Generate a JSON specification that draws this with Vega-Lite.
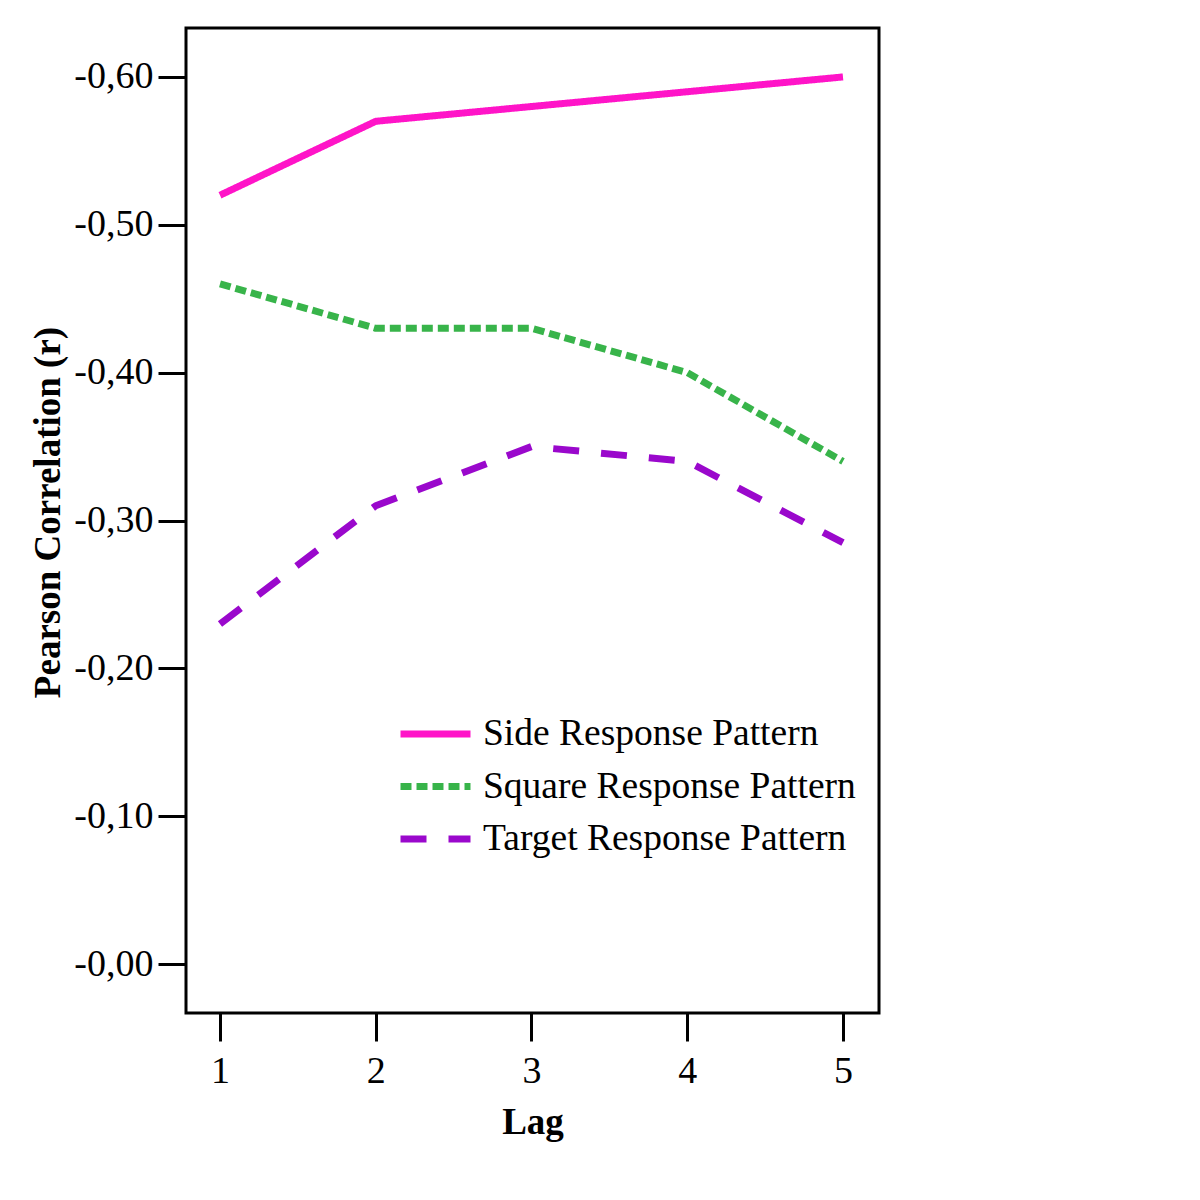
{
  "$schema": "https://vega.github.io/schema/vega-lite/v6.json",
  "autosize": {"type": "none"},
  "width": 693,
  "height": 985,
  "padding": {"left": 186, "top": 28, "right": 321, "bottom": 187},
  "background": "white",
  "data": {
    "values": [
      {"Lag": 1, "r": -0.52, "Pattern": "Side Response Pattern"},
      {"Lag": 2, "r": -0.57, "Pattern": "Side Response Pattern"},
      {"Lag": 3, "r": -0.58, "Pattern": "Side Response Pattern"},
      {"Lag": 4, "r": -0.59, "Pattern": "Side Response Pattern"},
      {"Lag": 5, "r": -0.60, "Pattern": "Side Response Pattern"},
      {"Lag": 1, "r": -0.46, "Pattern": "Square Response Pattern"},
      {"Lag": 2, "r": -0.43, "Pattern": "Square Response Pattern"},
      {"Lag": 3, "r": -0.43, "Pattern": "Square Response Pattern"},
      {"Lag": 4, "r": -0.40, "Pattern": "Square Response Pattern"},
      {"Lag": 5, "r": -0.34, "Pattern": "Square Response Pattern"},
      {"Lag": 1, "r": -0.23, "Pattern": "Target Response Pattern"},
      {"Lag": 2, "r": -0.31, "Pattern": "Target Response Pattern"},
      {"Lag": 3, "r": -0.35, "Pattern": "Target Response Pattern"},
      {"Lag": 4, "r": -0.34, "Pattern": "Target Response Pattern"},
      {"Lag": 5, "r": -0.285, "Pattern": "Target Response Pattern"}
    ]
  },
  "mark": {"type": "line", "strokeWidth": 7, "strokeCap": "butt", "strokeJoin": "round"},
  "encoding": {
    "x": {
      "field": "Lag", "type": "quantitative",
      "scale": {"domain": [0.7817, 5.2312], "nice": false, "zero": false},
      "axis": {"values": [1, 2, 3, 4, 5], "format": "d", "title": "Lag",
        "labelPadding": 11, "titleX": 346.5, "titleY": 120, "titleBaseline": "alphabetic", "titleAnchor": null}
    },
    "y": {
      "field": "r", "type": "quantitative",
      "scale": {"domain": [-0.6331, 0.0331], "nice": false, "zero": false, "reverse": true},
      "axis": {"values": [0, -0.1, -0.2, -0.3, -0.4, -0.5, -0.6],
        "labelExpr": "'-' + replace(format(abs(datum.value), '.2f'), '.', ',')",
        "title": "Pearson Correlation (r)", "labelPadding": 5,
        "titleX": -138, "titleY": 484, "titleBaseline": "middle", "titleAngle": -90}
    },
    "color": {
      "field": "Pattern", "type": "nominal",
      "scale": {"domain": ["Side Response Pattern", "Square Response Pattern", "Target Response Pattern"],
        "range": ["#FF14C8", "#38B44A", "#9A08CC"]},
      "legend": {"title": null}
    },
    "strokeDash": {
      "field": "Pattern", "type": "nominal",
      "scale": {"domain": ["Side Response Pattern", "Square Response Pattern", "Target Response Pattern"],
        "range": [[1, 0], [11, 5], [26, 22]]},
      "legend": {"title": null}
    }
  },
  "config": {
    "view": {"stroke": "black", "strokeWidth": 3},
    "axis": {
      "domain": false, "grid": false,
      "tickColor": "black", "tickWidth": 3, "tickSize": 28,
      "labelFont": "Liberation Serif", "labelFontSize": 38, "labelColor": "black",
      "titleFont": "Liberation Serif", "titleFontSize": 37, "titleFontWeight": "bold", "titleColor": "black"
    },
    "legend": {
      "orient": "none", "legendX": 211, "legendY": 684,
      "padding": 0, "symbolType": "stroke", "symbolSize": 4900, "symbolStrokeWidth": 7,
      "labelFont": "Liberation Serif", "labelFontSize": 37.5, "labelColor": "black",
      "labelOffset": 9, "rowPadding": 8.5, "clipHeight": 44, "labelLimit": 600
    }
  }
}
